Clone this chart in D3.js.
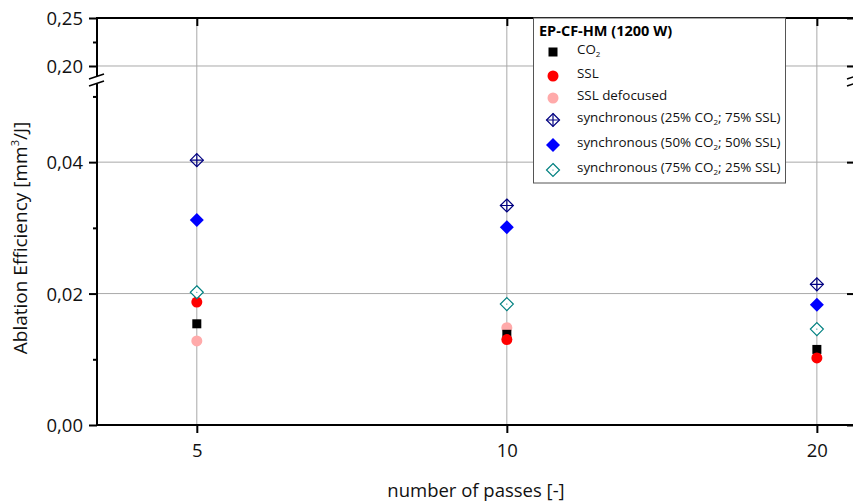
<!DOCTYPE html>
<html><head><meta charset="utf-8">
<script src="https://cdn.jsdelivr.net/npm/d3@7"></script>
<style>body{margin:0;background:#fff}svg{display:block}</style>
</head><body>
<svg id="c" width="853" height="502"></svg>
<script>
const passes = [5, 10, 20];
const co2 = [0.0154, 0.0138, 0.0115];
const ssl = [0.0187, 0.0130, 0.0102];
const sslDef = [0.0128, 0.0148, null];
const sync25 = [0.0403, 0.0334, 0.0214];
const sync50 = [0.0312, 0.0301, 0.0183];
const sync75 = [0.0202, 0.0184, 0.0146];
const lowTicks = [0, 0.02, 0.04];
const lowMinor = [0.01, 0.03, 0.05];
const highTicks = [0.20, 0.25];
const highMinor = [0.225];
const legendTitle = "EP-CF-HM (1200 W)";

const FONT = "'Open Sans', sans-serif";
const svg = d3.select("#c");
const L = 97, R = 855, T = 18, B = 425, BRK = 80;
const x = d3.scaleLog().domain([4, 21.78]).range([L, R]);
const yLow = d3.scaleLinear().domain([0, 0.0525]).range([B, BRK]);
const yHigh = d3.scaleLinear().domain([0.1854, 0.25]).range([BRK, T]);
const fmt = v => d3.format(".2f")(v).replace(".", ",");

// gridlines
const grid = svg.append("g").attr("stroke", "#a9a9a9").attr("stroke-width", 1);
passes.forEach(p => grid.append("line").attr("x1", x(p)).attr("x2", x(p)).attr("y1", T).attr("y2", B));
lowTicks.filter(v => v > 0).forEach(v => grid.append("line").attr("x1", L).attr("x2", R).attr("y1", yLow(v)).attr("y2", yLow(v)));
highTicks.filter(v => v < 0.25).forEach(v => grid.append("line").attr("x1", L).attr("x2", R).attr("y1", yHigh(v)).attr("y2", yHigh(v)));

// axes
const axLow = d3.axisLeft(yLow).tickValues(lowTicks).tickFormat(fmt).tickSize(8).tickSizeOuter(0);
const axHigh = d3.axisLeft(yHigh).tickValues(highTicks).tickFormat(fmt).tickSize(8).tickSizeOuter(0);
const gL1 = svg.append("g").attr("transform", `translate(${L},0)`).call(axLow);
const gL2 = svg.append("g").attr("transform", `translate(${L},0)`).call(axHigh);
const axLowM = d3.axisLeft(yLow).tickValues(lowMinor).tickFormat("").tickSize(4).tickSizeOuter(0);
const axHighM = d3.axisLeft(yHigh).tickValues(highMinor).tickFormat("").tickSize(4).tickSizeOuter(0);
svg.append("g").attr("transform", `translate(${L},0)`).call(axLowM);
svg.append("g").attr("transform", `translate(${L},0)`).call(axHighM);
// right axis (inward ticks)
svg.append("g").attr("transform", `translate(${R},0)`).call(d3.axisLeft(yLow).tickValues(lowTicks).tickFormat("").tickSize(8).tickSizeOuter(0));
svg.append("g").attr("transform", `translate(${R},0)`).call(d3.axisLeft(yHigh).tickValues(highTicks).tickFormat("").tickSize(8).tickSizeOuter(0));

const axB = d3.axisBottom(x).tickValues(passes).tickFormat(d => d).tickSize(8).tickSizeOuter(0);
const gB = svg.append("g").attr("transform", `translate(0,${B})`).call(axB);
svg.append("g").attr("transform", `translate(0,${T})`).call(d3.axisTop(x).tickValues(passes).tickFormat("").tickSize(-8).tickSizeOuter(0));

svg.selectAll(".domain").remove();
svg.selectAll(".tick line").attr("stroke", "#000").attr("stroke-width", 2);
svg.selectAll(".tick text").attr("font-family", FONT).attr("font-size", 18.5).attr("fill", "#111");
gB.selectAll(".tick text").attr("dy", 0).attr("y", 32);
[gL1, gL2].forEach(g => g.selectAll(".tick text").attr("x", -14).attr("dy", "0.36em"));

// axis lines with break
const ax = svg.append("g").attr("stroke", "#000").attr("stroke-width", 2).attr("fill", "none");
ax.append("line").attr("x1", L - 1).attr("x2", R).attr("y1", B).attr("y2", B);
ax.append("line").attr("x1", L - 1).attr("x2", R).attr("y1", T).attr("y2", T);
[L, R].forEach(xx => {
  ax.append("line").attr("x1", xx).attr("x2", xx).attr("y1", T).attr("y2", BRK - 4);
  ax.append("line").attr("x1", xx).attr("x2", xx).attr("y1", BRK + 4).attr("y2", B);
  ax.append("line").attr("x1", xx - 8).attr("x2", xx + 7).attr("y1", BRK - 1).attr("y2", BRK - 6).attr("stroke-width", 1.5);
  ax.append("line").attr("x1", xx - 8).attr("x2", xx + 7).attr("y1", BRK + 6).attr("y2", BRK + 1).attr("stroke-width", 1.5);
});

// markers
const pts = svg.append("g");
function drawSeries(vals, fn) {
  vals.forEach((v, i) => { if (v != null) fn(pts, x(passes[i]), yLow(v)); });
}
const diamond = (g, cx, cy, r) => g.append("path").attr("d", `M${cx},${cy - r}L${cx + r},${cy}L${cx},${cy + r}L${cx - r},${cy}Z`);
const mk = {
  co2: (g, cx, cy) => g.append("rect").attr("x", cx - 4.5).attr("y", cy - 4.5).attr("width", 9).attr("height", 9).attr("fill", "#000"),
  ssl: (g, cx, cy) => g.append("circle").attr("cx", cx).attr("cy", cy).attr("r", 5.5).attr("fill", "#ff0000"),
  sslDef: (g, cx, cy) => g.append("circle").attr("cx", cx).attr("cy", cy).attr("r", 5.5).attr("fill", "#ffaaaa"),
  sync25: (g, cx, cy) => {
    diamond(g, cx, cy, 6.5).attr("fill", "none").attr("stroke", "#000080").attr("stroke-width", 1.2);
    g.append("path").attr("d", `M${cx - 6.5},${cy}H${cx + 6.5}M${cx},${cy - 6.5}V${cy + 6.5}`).attr("stroke", "#000080").attr("stroke-width", 1.2);
  },
  sync50: (g, cx, cy) => diamond(g, cx, cy, 7).attr("fill", "#0000ff"),
  sync75: (g, cx, cy) => {
    diamond(g, cx, cy, 6.5).attr("fill", "#fff").attr("stroke", "#008080").attr("stroke-width", 1.2);
    g.append("circle").attr("cx", cx).attr("cy", cy).attr("r", 0.6).attr("fill", "#008080");
  }
};
drawSeries(sslDef, mk.sslDef);
drawSeries(co2, mk.co2);
drawSeries(ssl, mk.ssl);
drawSeries(sync25, mk.sync25);
drawSeries(sync50, mk.sync50);
drawSeries(sync75, mk.sync75);

// legend
const lg = svg.append("g");
lg.append("rect").attr("x", 533.5).attr("y", T).attr("width", 252).attr("height", 165).attr("fill", "#fff").attr("stroke", "#555").attr("stroke-width", 1);
lg.append("text").attr("x", 539).attr("y", 36).attr("font-family", FONT).attr("font-weight", "bold").attr("font-size", 14.5).text(legendTitle);
const entries = [
  {k: "co2", parts: [["CO"], ["2", "sub"]]},
  {k: "ssl", parts: [["SSL"]]},
  {k: "sslDef", parts: [["SSL defocused"]]},
  {k: "sync25", parts: [["synchronous (25% CO"], ["2", "sub"], ["; 75% SSL)"]]},
  {k: "sync50", parts: [["synchronous (50% CO"], ["2", "sub"], ["; 50% SSL)"]]},
  {k: "sync75", parts: [["synchronous (75% CO"], ["2", "sub"], ["; 25% SSL)"]]}
];
const rowY = [52, 76, 98, 120, 145, 170];
entries.forEach((e, i) => {
  const cy = rowY[i];
  mk[e.k](lg, 553, cy);
  const t = lg.append("text").attr("x", 577).attr("y", cy + 5).attr("font-family", FONT).attr("font-size", 13.4).attr("fill", "#111");
  e.parts.forEach(p => {
    if (p[1] === "sub") t.append("tspan").attr("font-size", 8).attr("dy", 3).text(p[0]);
    else t.append("tspan").attr("dy", t.selectAll("tspan").size() ? -3 : 0).text(p[0]);
  });
});

// axis titles
svg.append("text").attr("x", 476).attr("y", 497).attr("text-anchor", "middle").attr("font-family", FONT).attr("font-size", 18.5).attr("fill", "#111").text("number of passes [-]");
const yt = svg.append("text").attr("transform", "translate(27,238) rotate(-90)").attr("text-anchor", "middle").attr("font-family", FONT).attr("font-size", 19).attr("fill", "#111");
yt.append("tspan").text("Ablation Efficiency [mm");
yt.append("tspan").attr("font-size", 11).attr("dy", -8).text("3");
yt.append("tspan").attr("dy", 8).text("/J]");
</script>
</body></html>
